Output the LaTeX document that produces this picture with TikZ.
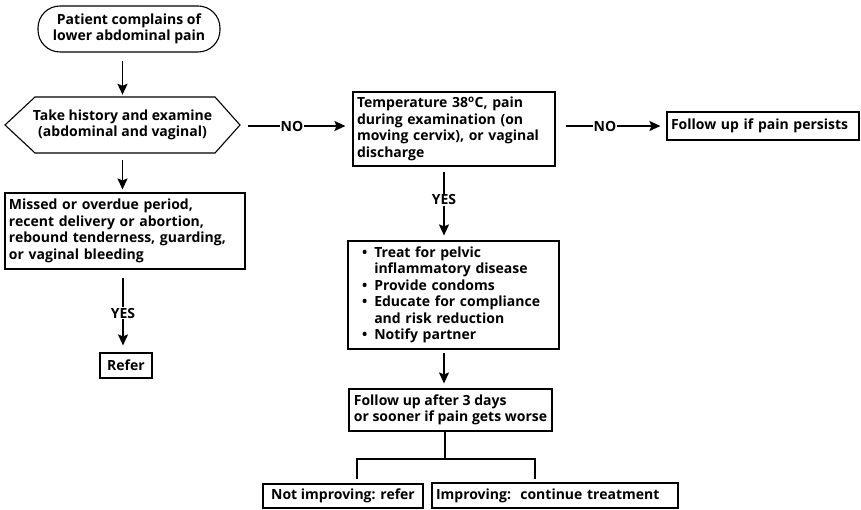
\documentclass[tikz,border=0pt]{standalone}
\usepackage{fontspec}
\setmainfont{Open Sans}
\usetikzlibrary{arrows.meta}
\begin{document}
\begin{tikzpicture}[x=1pt,y=-1pt,
  every node/.style={font=\bfseries\fontsize{14}{16.5}\selectfont},
  box/.style={draw, line width=1.1pt, inner xsep=4pt, inner ysep=1pt, align=left},
  flow/.style={line width=1.8pt, -{Stealth[length=11pt,width=10pt,inset=2pt]}},
  plain/.style={line width=1.8pt},
  thinline/.style={line width=1.1pt},
  lbl/.style={inner sep=1pt}]
\useasboundingbox (0,0) rectangle (861,510);

% start of the pathway
\node[draw, line width=1.1pt, rounded corners=22pt, minimum width=182pt,
      minimum height=46pt, align=center, inner sep=0pt] (start) at (129,29)
  {Patient complains of\\lower abdominal pain};

% history and examination (hexagon drawn around the node)
\node[minimum width=235pt, minimum height=56pt, align=center, inner sep=0pt] (hist) at (122.5,125)
  {Take history and examine\\(abdominal and vaginal)};
\draw[line width=1.1pt] (5,125) -- (35,97) -- (215,97) -- (240,125) -- (215,153) -- (35,153) -- cycle;

\node[box, minimum width=240pt, minimum height=76pt, text width=232pt] (miss) at (125,231)
  {Missed or overdue period,\\recent delivery or abortion,\\rebound tenderness, guarding,\\or vaginal bleeding};

\node[box, minimum width=52pt, minimum height=25pt, align=center, inner xsep=0pt] (refer) at (126,365.5) {Refer};

\node[box, minimum width=202pt, minimum height=74pt, text width=194pt] (temp) at (454,129)
  {Temperature 38\textsuperscript{o}C, pain\\during examination (on\\moving cervix), or vaginal\\discharge};

\node[box, minimum width=192pt, minimum height=28pt, text width=184pt] (persist) at (763,126)
  {Follow up if pain persists};

\node[box, minimum width=211pt, minimum height=108pt, text width=203pt] (treat) at (453.5,295)
  {\hspace*{10pt}\begin{tabular}{@{}l@{\hspace{7pt}}l@{}}
   \textbullet & Treat for pelvic\\
               & inflammatory disease\\
   \textbullet & Provide condoms\\
   \textbullet & Educate for compliance\\
               & and risk reduction\\
   \textbullet & Notify partner
   \end{tabular}};

\node[box, minimum width=203pt, minimum height=42pt, inner xsep=2pt] (fu) at (450.5,410)
  {Follow up after 3 days\\or sooner if pain gets worse};

\node[box, minimum width=160pt, minimum height=24pt, align=center, inner xsep=0pt] (notimp) at (343,496)
  {Not improving: refer};
\node[box, minimum width=246pt, minimum height=25pt, text width=238pt] (imp) at (555,495.5)
  {Improving:\ \ continue treatment};

% spine of the right-hand column
\coordinate (spine) at (444,0);

% connectors
\draw[flow, shorten <=8pt, shorten >=2pt] (hist.north |- start.south) -- (hist.north);
\draw[flow, shorten <=7pt, shorten >=3pt] (hist.south) -- (hist.south |- miss.north);

\node[lbl] (yes1) at (123,313) {YES};
\draw[plain, shorten <=8pt] (yes1.north |- miss.south) -- (yes1.north);
\draw[flow, shorten >=7pt] (yes1.south) -- (yes1.south |- refer.north);

\node[lbl] (no1) at (292,126) {NO};
\draw[plain, shorten <=8pt] (hist.east |- no1) -- (no1.west);
\draw[flow, shorten >=7pt] (no1.east) -- (no1.east -| temp.west);

\node[lbl] (no2) at (605,126) {NO};
\draw[plain, shorten <=10pt] (temp.east |- no2) -- (no2.west);
\draw[flow, shorten >=6pt] (no2.east) -- (persist.west);

\node[lbl] (yes2) at (444,200) {YES};
\draw[plain, shorten <=5pt] (spine |- temp.south) -- (yes2.north);
\draw[flow, shorten >=5pt] (yes2.south) -- (spine |- treat.north);

\draw[flow, shorten <=3pt, shorten >=5pt] (spine |- treat.south) -- (spine |- fu.north);

% branch to the two outcomes
\coordinate (split) at (445,459);
\draw[thinline] (split |- fu.south) -- (split);
\draw[thinline] (357,479) |- (split) -| (535,479);
\end{tikzpicture}
\end{document}
